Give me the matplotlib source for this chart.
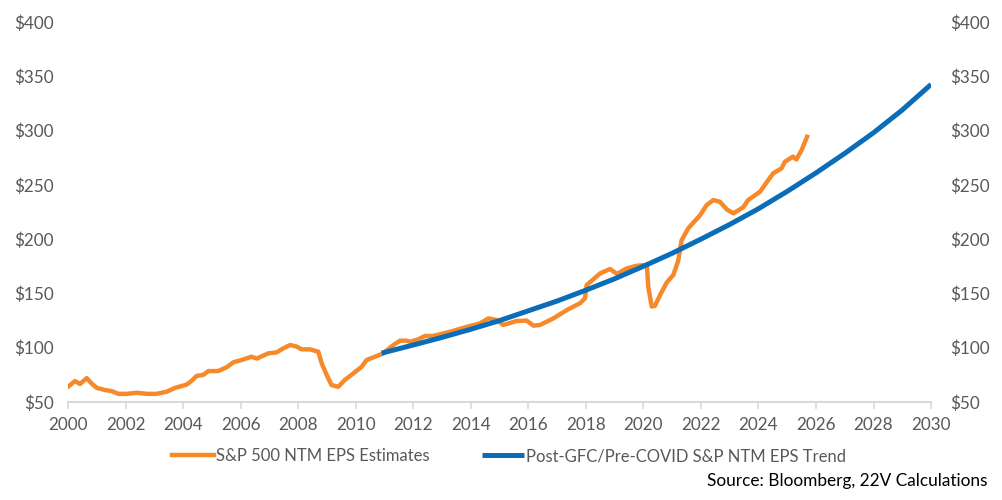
import matplotlib
matplotlib.use("Agg")
import matplotlib.pyplot as plt
from matplotlib.ticker import FuncFormatter, MultipleLocator

# Data
eps_years = [2000.0, 2000.24, 2000.42, 2000.65, 2000.82, 2001.0, 2001.29, 2001.52, 2001.75, 2002.04,
             2002.39, 2002.74, 2003.08, 2003.43, 2003.72, 2004.12, 2004.3, 2004.47, 2004.7, 2004.88,
             2005.22, 2005.51, 2005.75, 2006.04, 2006.38, 2006.56, 2006.96, 2007.25, 2007.48, 2007.72,
             2007.95, 2008.12, 2008.41, 2008.7, 2008.82, 2008.99, 2009.16, 2009.39, 2009.62, 2009.92,
             2010.21, 2010.38, 2010.67, 2010.96, 2011.31, 2011.54, 2011.77, 2011.89, 2012.17, 2012.41,
             2012.7, 2013.28, 2013.97, 2014.32, 2014.61, 2014.9, 2015.13, 2015.6, 2015.94, 2016.18,
             2016.41, 2016.87, 2017.34, 2017.8, 2017.97, 2018.03, 2018.5, 2018.84, 2019.08, 2019.42,
             2019.77, 2020.12, 2020.17, 2020.29, 2020.4, 2020.58, 2020.81, 2021.04, 2021.21, 2021.33,
             2021.56, 2021.97, 2022.2, 2022.43, 2022.66, 2022.9, 2023.13, 2023.47, 2023.64, 2024.05,
             2024.51, 2024.8, 2024.92, 2025.2, 2025.32, 2025.5, 2025.69]
eps_values = [64, 69.3, 66.6, 72, 67, 63, 61, 60, 57.5, 57.5,
              58.5, 57.5, 57.5, 59.5, 63, 66, 69.6, 74, 75, 78.5,
              78.5, 82, 86.6, 88.7, 91.7, 90, 94.8, 95.7, 99.4, 102.5,
              101, 98.5, 98.5, 96.3, 85.5, 75, 65.6, 64, 70.3, 76.4,
              82.5, 88.7, 91.7, 94.8, 102.5, 106.5, 106.5, 105.5, 107.7, 110.8,
              110.8, 114.7, 120, 122.4, 127, 125.5, 121, 124.6, 125, 120.3,
              121, 127, 134.7, 141, 145.5, 157.7, 168.5, 172.5, 168, 173,
              175.5, 176.2, 156, 138, 138.5, 148.5, 160, 167, 180, 199,
              210, 222, 231.4, 236, 234.4, 227.4, 223.7, 229.3, 236, 243.6,
              260.6, 265.2, 271.3, 276, 273.4, 282, 294.3]

trend_years = [2010.9, 2012, 2013, 2014, 2015, 2016, 2017, 2018, 2019, 2020,
               2021, 2022, 2023, 2024, 2025, 2026, 2027, 2028, 2029, 2030]
trend_values = [95, 102.5, 109.5, 117, 125, 134, 143, 153, 163.5, 175,
                187, 200, 213.5, 228, 244, 261, 279, 298, 319, 342.5]

labels = ["S&P 500 NTM EPS Estimates", "Post-GFC/Pre-COVID S&P NTM EPS Trend"]
source = "Source: Bloomberg, 22V Calculations"

ORANGE = "#F68A2B"
BLUE = "#0B6CB7"
GRAY = "#595959"

plt.rcParams['font.family'] = ['Lato', 'DejaVu Sans']

fig = plt.figure(figsize=(10.02, 5.0), dpi=100)
ax = fig.add_axes([0.0679, 0.196, 0.8613, 0.760])

l1, = ax.plot(eps_years, eps_values, color=ORANGE, lw=3.2, solid_joinstyle='round', zorder=2)
l2, = ax.plot(trend_years, trend_values, color=BLUE, lw=3.6, solid_capstyle='butt', zorder=3)

ax.set_xlim(2000, 2030)
ax.set_ylim(50, 400)
ax.xaxis.set_major_locator(MultipleLocator(2))
ax.yaxis.set_major_locator(MultipleLocator(50))
ax.xaxis.set_major_formatter(FuncFormatter(lambda v, p: f"{int(round(v))}"))
fmt = FuncFormatter(lambda v, p: f"${int(round(v))}")
ax.yaxis.set_major_formatter(fmt)

for s in ['top', 'right', 'left']:
    ax.spines[s].set_visible(False)
ax.spines['bottom'].set_color('#D9D9D9')
ax.spines['bottom'].set_linewidth(1.5)

ax.tick_params(axis='x', direction='out', length=5, width=1.2, color='#D9D9D9',
               labelcolor=GRAY, labelsize=12.3, pad=6)
ax.tick_params(axis='y', length=0, labelcolor=GRAY, labelsize=12.3, pad=10.5)

ax2 = ax.twinx()
ax2.set_ylim(50, 400)
ax2.yaxis.set_major_locator(MultipleLocator(50))
ax2.yaxis.set_major_formatter(fmt)
for s in ['top', 'right', 'left', 'bottom']:
    ax2.spines[s].set_visible(False)
ax2.tick_params(axis='y', length=0, labelcolor=GRAY, labelsize=12.3, pad=13.5)

leg = fig.legend([l1, l2], labels, loc='center', bbox_to_anchor=(0.508, 0.088), ncol=2,
                 frameon=False, fontsize=12, handlelength=2.5, columnspacing=3.2,
                 handletextpad=0.1)
for t in leg.get_texts():
    t.set_color(GRAY)

fig.text(0.986, 0.038, source, ha='right', va='center', fontsize=12.4, color='black')

fig.savefig("out.png", dpi=100)
